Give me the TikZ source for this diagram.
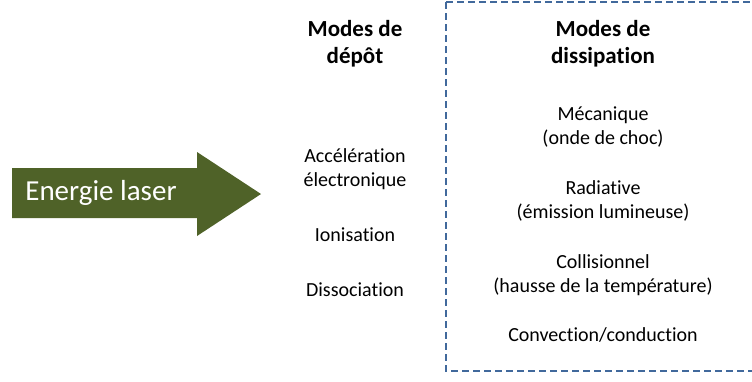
\documentclass[tikz,border=0pt]{standalone}
\usepackage{fontspec}
\setmainfont{Carlito}[Ligatures=NoCommon]
\definecolor{olivearrow}{HTML}{4F6228}
\definecolor{boxblue}{HTML}{41699C}
\begin{document}
\begin{tikzpicture}[x=1pt,y=-1pt,
  lbl/.style={font=\fontsize{20}{24.5}\selectfont, align=center, inner sep=0pt, text=black},
  hdr/.style={font=\fontsize{23}{27}\selectfont\bfseries, align=center, inner sep=0pt, text=black},
  dashbox/.style={draw=boxblue, line width=1.8pt, dash pattern=on 7pt off 4pt}]
\useasboundingbox (0,0) rectangle (752,381);
% arrow
\fill[olivearrow] (12,168) -- (197,168) -- (197,152) -- (261,194) -- (197,236) -- (197,218) -- (12,218) -- cycle;
\node[font=\fontsize{29}{34}\selectfont, text=white, inner sep=0pt] (energy) at (101,193) {Energie laser};
% dashed box
\draw[dashbox] (446,2) -- (760,2);
\draw[dashbox] (446,2) -- (446,371) -- (760,371);
% left column
\node[hdr] (hdep) at (355,44) {Modes de\\dépôt};
\node[lbl] (acc) at (355,169) {Accélération\\électronique};
\node[lbl] (ion) at (355,235) {Ionisation};
\node[lbl] (dis) at (355,290) {Dissociation};
% right column
\node[hdr] (hdis) at (603,44) {Modes de\\dissipation};
\node[lbl] (meca) at (603,127) {Mécanique\\(onde de choc)};
\node[lbl] (rad) at (603,201) {Radiative\\(émission lumineuse)};
\node[lbl] (col) at (603,275) {Collisionnel\\(hausse de la température)};
\node[lbl] (conv) at (603,335) {Convection/conduction};
\end{tikzpicture}
\end{document}
